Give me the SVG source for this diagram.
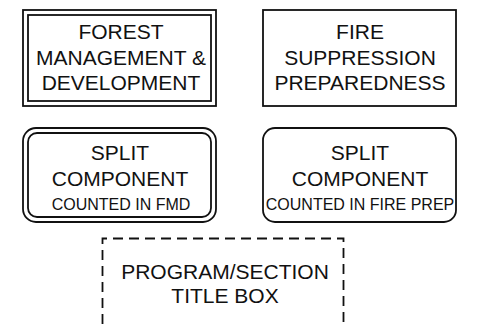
<svg xmlns="http://www.w3.org/2000/svg" width="477" height="326" viewBox="0 0 477 326">
<style>
.b{fill:none;stroke:#111;stroke-width:1.8}
.d{fill:none;stroke:#111;stroke-width:1.8;stroke-dasharray:10 6}
.t{font-family:"Liberation Sans",Arial,sans-serif;font-size:21px;fill:#111;text-anchor:middle}
.s{font-family:"Liberation Sans",Arial,sans-serif;font-size:16px;fill:#111;text-anchor:middle}
</style>
<rect width="477" height="326" fill="#fff"/>
<g id="fmd">
<rect class="b" x="23" y="10" width="193" height="96"/>
<rect class="b" x="28" y="15" width="183" height="86"/>
<text class="t" x="121" y="39">FOREST</text>
<text class="t" x="121" y="65">MANAGEMENT &amp;</text>
<text class="t" x="121" y="90">DEVELOPMENT</text>
</g>
<g id="fire">
<rect class="b" x="263" y="10" width="193" height="96"/>
<text class="t" x="360" y="39">FIRE</text>
<text class="t" x="360" y="65">SUPPRESSION</text>
<text class="t" x="360" y="90">PREPAREDNESS</text>
</g>
<g id="split-fmd">
<rect class="b" x="23" y="128" width="193" height="94" rx="13"/>
<rect class="b" x="28" y="133" width="183" height="84" rx="9"/>
<text class="t" x="120" y="160">SPLIT</text>
<text class="t" x="120" y="186">COMPONENT</text>
<text class="s" x="121" y="210">COUNTED IN FMD</text>
</g>
<g id="split-fire">
<rect class="b" x="263" y="128" width="193" height="94" rx="12"/>
<text class="t" x="360" y="160">SPLIT</text>
<text class="t" x="360" y="186">COMPONENT</text>
<text class="s" x="360" y="210">COUNTED IN FIRE PREP</text>
</g>
<g id="title-box">
<path class="d" d="M102.5 340 V238.5 H343.5 V340"/>
<text class="t" x="225" y="279">PROGRAM/SECTION</text>
<text class="t" x="225" y="303">TITLE BOX</text>
</g>
<g id="connectors"></g>
</svg>
